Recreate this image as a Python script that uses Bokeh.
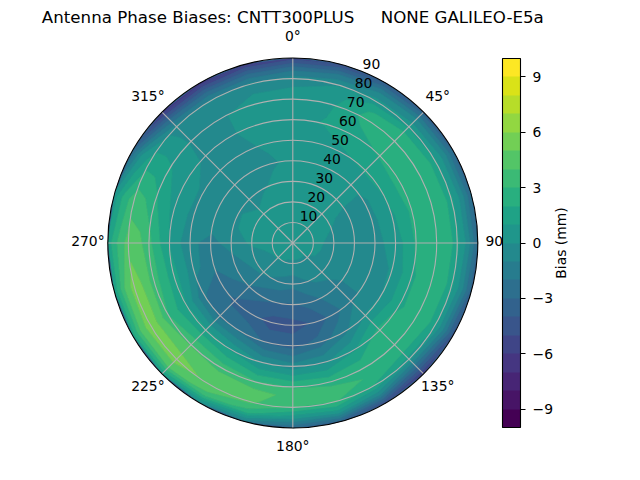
import numpy as np
from bokeh.plotting import figure
from bokeh.models import Range1d, ColorBar, LinearColorMapper, FixedTicker, Label
from bokeh.palettes import viridis
from bokeh.core.properties import value
from bokeh.embed import file_html
from bokeh.resources import INLINE

TITLE = "Antenna Phase Biases: CNTT300PLUS\u00a0\u00a0\u00a0\u00a0\u00a0NONE GALILEO-E5a"
CBAR_LABEL = "Bias (mm)"
zenith = [0, 10, 20, 30, 40, 50, 60, 70, 75, 80, 85, 90]
azimuth = [0, 15, 30, 45, 60, 75, 90, 105, 120, 135, 150, 165, 180, 195, 210, 225, 240, 255, 270, 285, 300, 315, 330, 345]
bias_by_azimuth = [
    [0.5, 0.9, 0.8, 0.4, 0.2, 0.4, 0.6, 0.5, 0.1, -0.5, -2.5, -5.5],
    [0.5, 0.8, 0.8, 0.7, 0.1, 0.3, 1.1, 0.8, 0.5, -0.1, -2.0, -5.0],
    [0.5, 0.8, 0.8, 0.5, 0.4, 0.9, 1.6, 2.3, 1.9, 0.5, -1.2, -4.0],
    [0.5, 0.7, 0.6, 0.6, 0.4, 1.1, 2.1, 2.7, 2.5, 0.8, -0.8, -3.5],
    [0.5, 0.5, 0.2, -0.3, -0.3, 1.1, 2.4, 2.7, 2.7, 1.2, -0.5, -3.2],
    [0.5, 0.4, -0.1, -0.5, -0.3, 0.8, 2.2, 2.7, 2.8, 1.3, -0.4, -3.0],
    [0.5, 0.3, -0.3, -0.4, -0.3, 0.4, 2.1, 2.7, 2.8, 1.4, -0.3, -3.0],
    [0.5, 0.2, -0.3, -0.5, -0.5, 0.1, 1.8, 2.8, 2.7, 1.3, -0.6, -3.5],
    [0.5, 0.1, -0.3, -0.6, -0.8, 0.0, 1.8, 2.6, 2.6, 1.2, -1.3, -4.5],
    [0.5, -0.1, -0.6, -1.4, -1.2, 0.1, 2.4, 2.7, 2.2, 0.6, -2.7, -6.0],
    [0.5, -0.1, -0.8, -1.8, -2.5, -1.3, 0.9, 2.8, 2.9, 1.9, -0.8, -5.0],
    [0.5, -0.1, -1.2, -2.6, -3.9, -2.6, -0.2, 2.7, 3.4, 3.1, 0.7, -3.5],
    [0.5, -0.1, -1.7, -3.1, -4.4, -3.5, -0.6, 2.9, 3.7, 3.0, 0.4, -3.0],
    [0.5, -0.1, -1.4, -3.0, -4.5, -3.2, -0.1, 3.1, 4.4, 4.2, 2.5, -1.5],
    [0.5, 0.0, -1.1, -2.8, -3.6, -2.2, 0.9, 3.6, 4.5, 4.7, 3.7, -0.3],
    [0.5, 0.1, -0.8, -2.1, -3.2, -2.4, 1.3, 3.9, 4.8, 5.5, 4.4, 1.0],
    [0.5, 0.1, -0.7, -1.6, -2.5, -1.9, 1.1, 3.0, 4.7, 5.7, 4.3, 1.5],
    [0.5, 0.3, -0.4, -1.2, -1.8, -0.6, 1.4, 3.5, 4.8, 5.6, 3.9, 1.2],
    [0.5, 0.5, 0.2, -0.6, -1.3, -0.8, 0.9, 3.3, 4.3, 4.5, 3.2, 1.4],
    [0.5, 0.6, 0.3, -0.1, -0.6, -0.3, 0.7, 2.3, 3.2, 3.6, 2.4, 0.4],
    [0.5, 0.7, 0.5, -0.1, -0.3, -0.1, 0.3, 1.2, 1.5, 1.5, 0.1, -3.0],
    [0.5, 0.6, 0.1, -0.2, -0.3, -0.2, -0.1, -0.1, -0.2, -0.5, -3.0, -6.5],
    [0.5, 0.8, 0.5, -0.1, -0.3, -0.2, -0.1, -0.1, -0.2, -0.7, -3.2, -6.5],
    [0.5, 0.9, 0.7, 0.2, -0.1, 0.1, 0.4, 0.4, 0.0, -0.7, -3.0, -6.0],
]
levels = list(range(-10, 11))
cbar_ticks = [-9, -6, -3, 0, 3, 6, 9]
radial_ticks = [10, 20, 30, 40, 50, 60, 70, 80, 90]
angle_ticks = [0, 45, 90, 135, 180, 225, 270, 315]

W, H = 640, 480
CX, CY, R = 292.3, 242.5, 185.0
U = 90.0 / R

p = figure(width=W, height=H, output_backend="svg", toolbar_location=None,
           x_axis_location=None, y_axis_location=None, min_border=0,
           x_range=Range1d(-CX * U, (W - CX) * U),
           y_range=Range1d(-(H - CY) * U, CY * U),
           outline_line_color=None)
p.grid.visible = False
p.background_fill_color = "white"

palette = list(viridis(20))

# polar grid -> cartesian, closed at 360 degrees
az = np.radians(azimuth + [360])
zn = np.array(zenith, dtype=float)
A, Z = np.meshgrid(az, zn, indexing="ij")
X = Z * np.sin(A)
Y = Z * np.cos(A)
V = np.array(bias_by_azimuth + [bias_by_azimuth[0]], dtype=float)

p.circle(x=[0], y=[0], radius=90, fill_color=palette[6], line_color=None)
# level lines in the band colour close the hairline seams between filled bands
p.contour(X, Y, V, levels, fill_color=palette, line_color=palette + [palette[-1]], line_width=0.7)

# grid
GRID = "#b0b0b0"
p.circle(x=[0] * len(radial_ticks[:-1]), y=[0] * len(radial_ticks[:-1]), radius=radial_ticks[:-1],
         fill_color=None, line_color=GRID, line_width=1.1)
ta = np.radians(angle_ticks)
p.segment(x0=[0] * 8, y0=[0] * 8, x1=list(90 * np.sin(ta)), y1=list(90 * np.cos(ta)),
          line_color=GRID, line_width=1.1)
p.circle(x=[0], y=[0], radius=90, fill_color=None, line_color="black", line_width=1.1)

FONT = value("DejaVu Sans")
p.text(x=list(99.7 * np.sin(ta)), y=list(99.7 * np.cos(ta)),
       text=[f"{a}°" for a in angle_ticks], text_font=FONT, text_font_size="13.9px",
       text_align="center", text_baseline="middle", text_color="black", y_offset=-2)
rl = np.radians(22.5)
p.text(x=[r * np.sin(rl) for r in radial_ticks], y=[r * np.cos(rl) for r in radial_ticks],
       text=[str(r) for r in radial_ticks], text_font=FONT, text_font_size="13.9px",
       text_align="left", text_baseline="bottom", text_color="black", x_offset=-1, y_offset=-3)

p.add_layout(Label(x=CX, y=H - 17, x_units="screen", y_units="screen", text=TITLE,
                   text_font="DejaVu Sans", text_font_size="16.67px", text_align="center",
                   text_baseline="middle", text_color="black"))

mapper = LinearColorMapper(palette=palette, low=levels[0], high=levels[-1])
cb = ColorBar(color_mapper=mapper, location=(502, 53), width=18, height=369, padding=0, margin=0,
              ticker=FixedTicker(ticks=cbar_ticks),
              major_label_overrides={t: (f"\u2212{-t}" if t < 0 else str(t)) for t in cbar_ticks},
              major_label_text_font="DejaVu Sans", major_label_text_font_size="13.9px",
              major_label_text_color="black", label_standoff=7,
              major_tick_in=0, major_tick_out=5, major_tick_line_color="black", major_tick_line_width=1.1,
              minor_tick_line_color=None, bar_line_color="black", bar_line_width=1.1,
              border_line_color=None, background_fill_color=None)
p.add_layout(cb)

p.add_layout(Label(x=560, y=H - 242.5, x_units="screen", y_units="screen", text=CBAR_LABEL,
                   angle=90, angle_units="deg", text_font="DejaVu Sans", text_font_size="13.9px",
                   text_align="center", text_baseline="middle", text_color="black"))

open("out.html", "w").write(file_html(p, INLINE))
